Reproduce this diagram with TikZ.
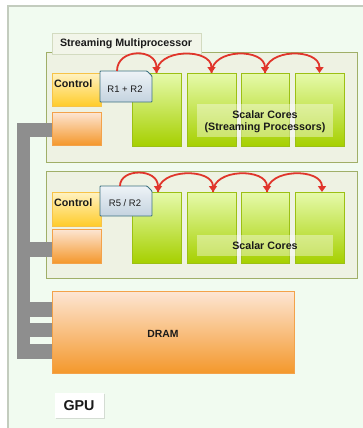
\documentclass[tikz,border=0pt]{standalone}
\usepackage{fontspec}
\setmainfont{Liberation Sans}
\usetikzlibrary{arrows.meta,shadows,calc}
\definecolor{gpuFill}{HTML}{F1FBF0}
\definecolor{gpuLine}{HTML}{C3CCBE}
\definecolor{smFill}{HTML}{EEF2E3}
\definecolor{smLine}{HTML}{A0AF68}
\definecolor{titleFill}{HTML}{F2F5E9}
\definecolor{titleLine}{HTML}{D3DBC0}
\definecolor{ctrlTop}{HTML}{FFF2C2}
\definecolor{ctrlBot}{HTML}{FFCC2A}
\definecolor{ctrlLine}{HTML}{F7C347}
\definecolor{orTop}{HTML}{FDE6D4}
\definecolor{orBot}{HTML}{F4982C}
\definecolor{orLine}{HTML}{F3A24A}
\definecolor{coreTop}{HTML}{E6FAAC}
\definecolor{coreBot}{HTML}{A6D000}
\definecolor{coreLine}{HTML}{9CC014}
\definecolor{tagTop}{HTML}{EEF3F7}
\definecolor{tagBot}{HTML}{C4D3DF}
\definecolor{tagLine}{HTML}{3E7282}
\definecolor{busGray}{HTML}{8E8E8E}
\definecolor{arrowRed}{HTML}{E0352B}
\definecolor{ink}{HTML}{1A1A1A}
\begin{document}
\begin{tikzpicture}[x=1pt,y=-1pt,
  blk/.style={anchor=north west, inner sep=0pt, outer sep=0pt},
  smbox/.style={blk, draw=smLine, fill=smFill, line width=0.8pt},
  smtitle/.style={blk, draw=titleLine, fill=titleFill, line width=0.6pt,
    drop shadow={shadow xshift=0.8pt, shadow yshift=-0.8pt, opacity=0.25}},
  ctrlbox/.style={blk, draw=ctrlLine, top color=ctrlTop, bottom color=ctrlBot, line width=0.8pt},
  orbox/.style={blk, draw=orLine, top color=orTop, bottom color=orBot, line width=0.8pt},
  corebox/.style={blk, draw=coreLine, top color=coreTop, bottom color=coreBot, line width=0.8pt},
  tagshape/.style={draw=tagLine, top color=tagTop, bottom color=tagBot, line width=0.9pt, rounded corners=0.8pt},
  labbg/.style={blk, fill=white, fill opacity=0.38},
  bus/.style={fill=busGray},
  arr/.style={draw=arrowRed, line width=1.8pt, -{Triangle[width=8pt,length=6pt]}},
  bold/.style={font=\fontsize{10.7}{12}\selectfont\bfseries, text=ink, inner sep=0pt},
  tagtext/.style={font=\fontsize{9.5}{11}\selectfont, text=ink, inner sep=0pt},
]
\useasboundingbox (0,0) rectangle (363,428);
\fill[white] (0,0) rectangle (363,428);
% GPU outer region
\draw[fill=gpuFill, draw=gpuLine, line width=1.5pt] (8,6) rectangle (380,440);

% ---------- Streaming multiprocessor 1 ----------
\node[smbox, minimum width=311, minimum height=110] (sm1) at (46,52) {};
\node[smtitle, minimum width=149, minimum height=21] (sm1title) at (52,33) {};
\node[bold] (sm1titletext) at (126,44) {Streaming Multiprocessor};
\node[ctrlbox, minimum width=49, minimum height=33] (ctrl1) at (52,73) {};
\node[bold, anchor=west] (ctrl1text) at (54,84) {Control};
\node[orbox, minimum width=49, minimum height=33] (or1) at (52,112) {};
\node[corebox, minimum width=49, minimum height=73] (c11) at (132,73) {};
\node[corebox, minimum width=49, minimum height=73] (c12) at (187,73) {};
\node[corebox, minimum width=48, minimum height=73] (c13) at (241,73) {};
\node[corebox, minimum width=49, minimum height=73] (c14) at (295,73) {};
\node[labbg, minimum width=136, minimum height=33] (lab1) at (197,104) {};
\node[bold, align=center] (lab1text) at (265,122) {Scalar Cores\\(Streaming Processors)};
\draw[tagshape] (100,71) -- (147,71) -- (152,76) -- (152,102) -- (100,102) -- cycle;
\node[tagtext] (tag1) at (125,89) {R1 + R2};
\coordinate (s1) at (117,71);
\draw[arr] (s1) .. controls ($(s1)+(0,-23)$) and ($(c11.north)+(0,-25)$) .. (c11.north);
\draw[arr] (c11.north) .. controls ($(c11.north)+(0,-25)$) and ($(c12.north)+(0,-25)$) .. (c12.north);
\draw[arr] (c12.north) .. controls ($(c12.north)+(0,-25)$) and ($(c13.north)+(0,-25)$) .. (c13.north);
\draw[arr] (c13.north) .. controls ($(c13.north)+(0,-25)$) and ($(c14.north)+(0,-25)$) .. (c14.north);

% ---------- Streaming multiprocessor 2 ----------
\node[smbox, minimum width=311, minimum height=107] (sm2) at (46,171) {};
\node[ctrlbox, minimum width=49, minimum height=34] (ctrl2) at (52,192) {};
\node[bold, anchor=west] (ctrl2text) at (54,203) {Control};
\node[orbox, minimum width=49, minimum height=34] (or2) at (52,229) {};
\node[corebox, minimum width=49, minimum height=71] (c21) at (132,192) {};
\node[corebox, minimum width=49, minimum height=71] (c22) at (187,192) {};
\node[corebox, minimum width=48, minimum height=71] (c23) at (241,192) {};
\node[corebox, minimum width=49, minimum height=71] (c24) at (295,192) {};
\node[labbg, minimum width=136, minimum height=21] (lab2) at (197,235) {};
\node[bold] (lab2text) at (265,246) {Scalar Cores};
\draw[tagshape] (100,186) -- (147,186) -- (152,191) -- (152,216) -- (100,216) -- cycle;
\node[tagtext] (tag2) at (125,203) {R5 / R2};
\coordinate (s2) at (120,186);
\draw[arr] (s2) .. controls ($(s2)+(0,-18)$) and ($(c21.north)+(1.5,-24)$) .. ($(c21.north)+(1.5,0)$);
\draw[arr] ($(c21.north)+(1.5,0)$) .. controls ($(c21.north)+(1.5,-24)$) and ($(c22.north)+(1.5,-24)$) .. ($(c22.north)+(1.5,0)$);
\draw[arr] ($(c22.north)+(1.5,0)$) .. controls ($(c22.north)+(1.5,-24)$) and ($(c23.north)+(2,-24)$) .. ($(c23.north)+(2,0)$);
\draw[arr] ($(c23.north)+(2,0)$) .. controls ($(c23.north)+(2,-24)$) and ($(c24.north)+(2.5,-24)$) .. ($(c24.north)+(2.5,0)$);

% ---------- DRAM ----------
\node[orbox, minimum width=242, minimum height=82,
  drop shadow={shadow xshift=1pt, shadow yshift=-1.2pt, opacity=0.3}] (dram) at (52,291) {};
\node[bold, font=\fontsize{10.4}{12}\selectfont\bfseries] (dramtext) at (163,334) {DRAM};

% ---------- Bus ----------
\fill[bus] (17,123) rectangle (30,359);
\fill[bus] (30,123) rectangle (52,137);
\fill[bus] (30,242) rectangle (52,257);
\fill[bus] (30,302) rectangle (52,317);
\fill[bus] (30,323) rectangle (52,337);
\fill[bus] (30,344) rectangle (52,359);

% ---------- GPU label ----------
\node[blk, fill=white, minimum width=49, minimum height=25,
  drop shadow={shadow xshift=0.8pt, shadow yshift=-0.8pt, opacity=0.25}] (gpu) at (55,393) {};
\node[bold, font=\fontsize{14.3}{16}\selectfont\bfseries] (gputext) at (79,405.5) {GPU};
\end{tikzpicture}
\end{document}
